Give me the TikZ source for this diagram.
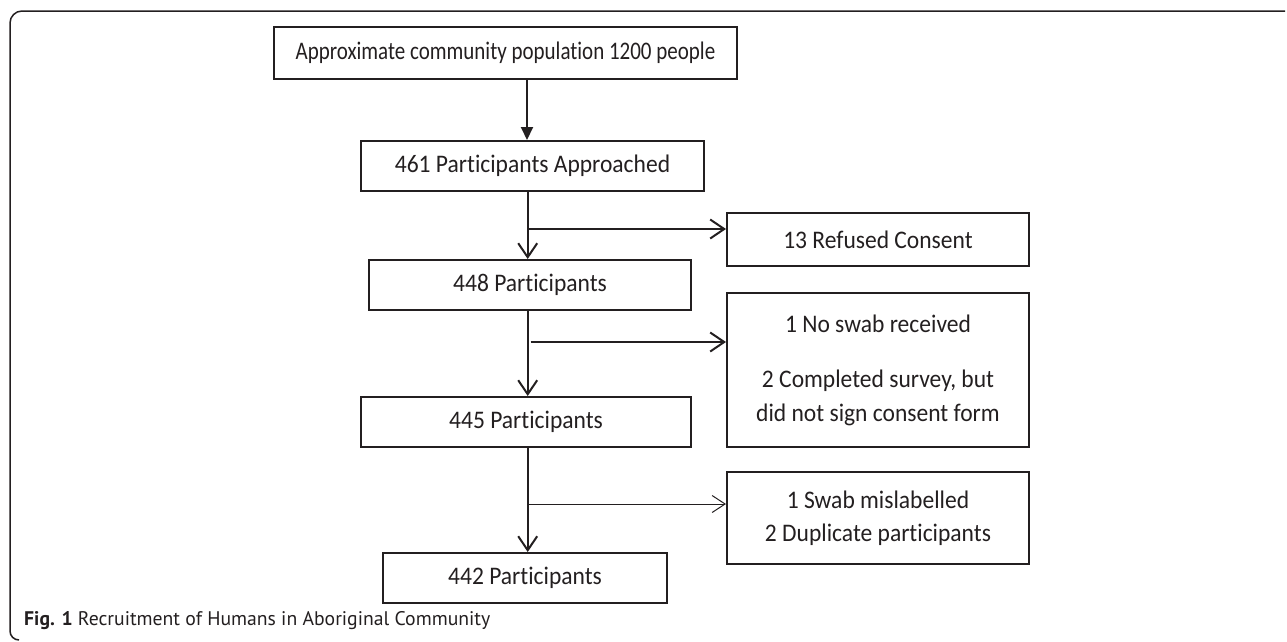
\documentclass[tikz,border=0pt]{standalone}
\usepackage{fontspec}
\setmainfont{Carlito}[Ligatures=NoCommon, FakeStretch=0.93]
\newfontfamily\topfont{Carlito}[Ligatures=NoCommon, FakeStretch=0.83]
\newfontfamily\capfont{PT Sans}
\usetikzlibrary{arrows.meta}
\definecolor{ink}{RGB}{35,31,32}
\tikzset{
  box/.style={draw=ink, line width=2pt, rectangle, inner sep=0pt, align=center,
    text=ink, font=\fontsize{25.3}{33.5}\selectfont},
  link/.style={draw=ink, line width=2pt, -{Straight Barb[length=14pt,width=19pt,line width=2pt]}},
  thinlink/.style={draw=ink, line width=1pt, -{Straight Barb[length=13pt,width=17pt,line width=1pt]}},
  solidlink/.style={draw=ink, line width=2pt, -{Triangle[length=13pt,width=12pt]}},
}
\begin{document}
\begin{tikzpicture}[x=1pt,y=-1pt]
\useasboundingbox (0,0) rectangle (1287,641);
% frame
\draw[ink, line width=1.5pt] (1285,11) -- (22,11) arc[start angle=270, end angle=180, radius=12] -- (10,631) arc[start angle=180, end angle=90, radius=9];
% boxes
\node[box, minimum width=463pt, minimum height=52pt, font=\topfont\fontsize{25.3}{30}\selectfont] (top) at (505.5,53) {Approximate community population 1200 people};
\node[box, minimum width=343pt, minimum height=50pt] (n461) at (532.5,166) {461 Participants Approached};
\node[box, minimum width=302pt, minimum height=53pt] (n13) at (878,239.5) {13 Refused Consent};
\node[box, minimum width=322pt, minimum height=50pt] (n448) at (530,285) {448 Participants};
\node[box, minimum width=302pt, minimum height=154pt] (n5) at (878,370) {1 No swab received\\[22pt]2 Completed survey, but\\did not sign consent form};
\node[box, minimum width=330pt, minimum height=50pt] (n445) at (526,422) {445 Participants};
\node[box, minimum width=302pt, minimum height=92pt] (n6) at (878,518) {1 Swab mislabelled\\2 Duplicate participants};
\node[box, minimum width=284pt, minimum height=50pt] (n442) at (525,578) {442 Participants};
% connectors
\coordinate (a1) at (527,79);
\draw[solidlink] (a1) -- (a1 |- n461.north);
\coordinate (a2) at (527.7,191);
\draw[link] (a2) -- (a2 |- n448.north);
\coordinate (b1) at (527.7,229);
\draw[link] (b1) -- (b1 -| n13.west);
\coordinate (a3) at (527.7,310);
\draw[link] (a3) -- (a3 |- n445.north);
\coordinate (b2) at (530.5,342);
\draw[link] (b2) -- (b2 -| n5.west);
\coordinate (a4) at (527.7,447);
\draw[link] (a4) -- (a4 |- n442.north);
\coordinate (b3) at (527.7,504);
\draw[thinlink] (b3) -- (b3 -| n6.west);
% caption
\node[anchor=west, inner sep=0pt, text=ink, font=\capfont\fontsize{19.7}{23}\selectfont] (cap) at (24,621) {\textbf{Fig. 1} Recruitment of Humans in Aboriginal Community};
\end{tikzpicture}
\end{document}
